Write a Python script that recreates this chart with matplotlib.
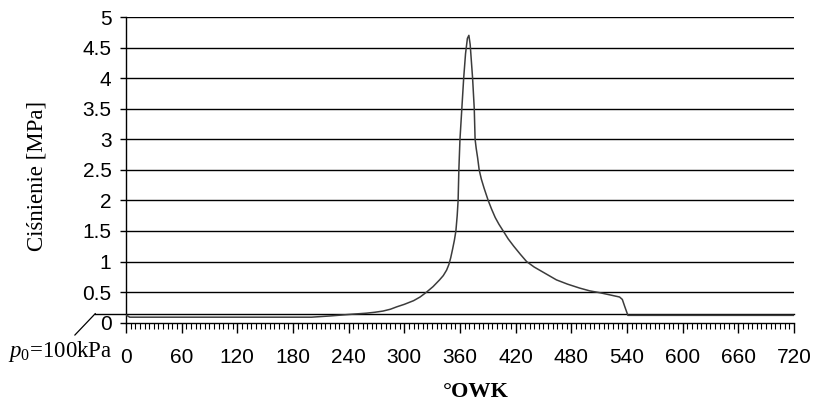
import matplotlib.pyplot as plt
from matplotlib.ticker import MultipleLocator

plt.rcParams['font.family'] = 'Liberation Sans'
plt.rcParams['mathtext.fontset'] = 'custom'
plt.rcParams['mathtext.it'] = 'Liberation Serif:italic'
plt.rcParams['mathtext.rm'] = 'Liberation Serif'

# crank angle [deg] and cylinder pressure [MPa]
angle = [0, 4, 100, 200, 210, 220, 245, 259, 268, 277, 285, 292, 300, 310,
         317, 324, 331, 338, 342, 345.6, 348, 350, 352, 354, 355.6, 357, 358,
         358.8, 360, 362, 364, 366, 368, 369.6, 371, 373.6, 375.4, 376.3,
         377.5, 379, 380.7, 383, 386, 390.4, 394, 398, 402, 406.6, 412, 418,
         425, 431.8, 440, 448, 456, 464, 476, 489, 500, 510.8, 520, 532, 535,
         537.7, 541, 620, 720]
pressure = [0.127, 0.09, 0.09, 0.09, 0.10, 0.11, 0.14, 0.155, 0.17, 0.19,
            0.22, 0.26, 0.30, 0.36, 0.42, 0.50, 0.59, 0.70, 0.77, 0.86, 0.95,
            1.06, 1.2, 1.35, 1.5, 1.75, 2.0, 2.5, 3.0, 3.5, 4.0, 4.4, 4.65,
            4.70, 4.55, 4.0, 3.5, 3.0, 2.85, 2.7, 2.5, 2.35, 2.2, 2.0, 1.86,
            1.72, 1.61, 1.5, 1.37, 1.25, 1.12, 1.0, 0.91, 0.84, 0.77, 0.70,
            0.63, 0.566, 0.52, 0.49, 0.46, 0.42, 0.38, 0.26, 0.12, 0.12, 0.12]

p0 = 0.15
x_ticks = list(range(0, 721, 60))
y_ticks = [0, 0.5, 1, 1.5, 2, 2.5, 3, 3.5, 4, 4.5, 5]
y_labels = ['0', '0.5', '1', '1.5', '2', '2.5', '3', '3.5', '4', '4.5', '5']

fig = plt.figure(figsize=(8.17, 4.03), dpi=100)
ax = fig.add_axes([0.1542, 0.1993, 0.8176, 0.7585])

for y in y_ticks[1:]:
    ax.axhline(y, color='black', lw=1.0, zorder=1)

ax.plot(angle, pressure, color='#3c3c3c', lw=1.1, zorder=3)
ax.plot([-33, 720], [p0, p0], color='black', lw=1.0, clip_on=False, zorder=2)
ax.annotate(r'$\mathit{p}_\mathit{0}$=100kPa', xy=(-33, p0), xytext=(-14, -0.47),
            ha='right', va='center', fontsize=16.5, family='Liberation Serif',
            annotation_clip=False,
            arrowprops=dict(arrowstyle='-', color='black', lw=0.9,
                            shrinkA=1, shrinkB=0, relpos=(0.6, 1.0)))

ax.set_xlim(0, 720)
ax.set_ylim(0, 5)
ax.set_xticks(x_ticks)
ax.xaxis.set_minor_locator(MultipleLocator(5))
ax.set_yticks(y_ticks)
ax.set_yticklabels(y_labels)

ax.tick_params(axis='x', which='major', direction='out', length=7, width=1,
               pad=11, labelsize=15)
ax.tick_params(axis='x', which='minor', direction='out', length=4, width=0.8)
ax.tick_params(axis='y', direction='out', length=4.5, width=1, pad=6,
               labelsize=15)

for s in ['top', 'right']:
    ax.spines[s].set_visible(False)
for s in ['left', 'bottom']:
    ax.spines[s].set_color('black')
    ax.spines[s].set_linewidth(1.0)

ax.set_ylabel('Ciśnienie [MPa]', family='Liberation Serif', fontsize=16.5)
ax.yaxis.set_label_coords(-0.118, 0.48)
ax.set_xlabel('°OWK', family='Liberation Serif', fontsize=16, fontweight='bold',
              va='top')
ax.xaxis.set_label_coords(0.524, -0.195)

fig.savefig('out.png', dpi=100)
